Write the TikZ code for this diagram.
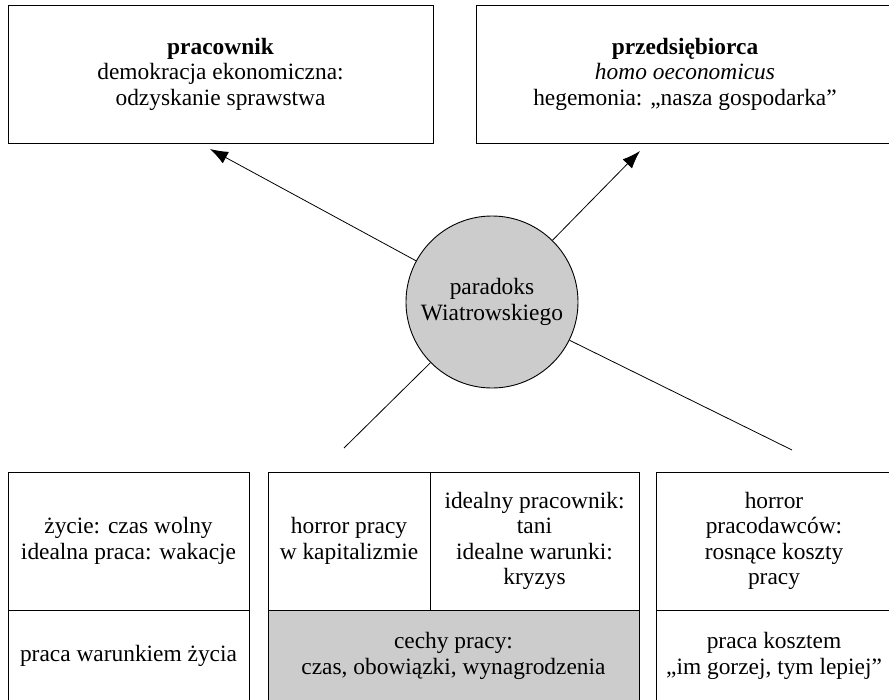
\documentclass[tikz,border=0pt]{standalone}
\usepackage{fontspec}
\setmainfont{Liberation Serif}
\usetikzlibrary{arrows.meta}
\begin{document}
\begin{tikzpicture}[x=1pt,y=-1pt,
  txt/.style={font=\fontsize{23.4}{25.5}\selectfont, align=center},
  cell/.style={txt, draw=black, line width=1pt, rectangle, inner sep=0pt},
  hub/.style={txt, draw=black, line width=0.9pt, circle, fill=black!20, minimum size=172pt, inner sep=0pt},
  arrowline/.style={line width=0.8pt, -{Latex[length=18pt,width=13pt]}},
  spoke/.style={line width=0.8pt}]
\useasboundingbox (0,0) rectangle (889,699);
\clip (0,0) rectangle (889,699);

% upper boxes
\node[cell, minimum width=425pt, minimum height=138pt] (worker) at (220.5,74)
  {\textbf{pracownik}\\demokracja ekonomiczna:\\odzyskanie sprawstwa};
\node[cell, minimum width=418pt, minimum height=138pt] (entre) at (685,74)
  {\textbf{przedsiębiorca}\\\textit{homo oeconomicus}\\hegemonia: „nasza gospodarka”};

% central circle
\node[hub] (c) at (492,302) {paradoks\\Wiatrowskiego};

% arrow tips and free ends of the spokes
\coordinate (tipL) at (210,149);
\coordinate (tipR) at (640,151);
\coordinate (endL) at (344,448);
\coordinate (endR) at (792,450);

\draw[arrowline] (c) -- (tipL);
\draw[arrowline] (c) -- (tipR);
\draw[spoke] (c) -- (endL);
\draw[spoke] (c) -- (endR);

% lower left column
\node[cell, minimum width=241pt, minimum height=138pt] (life) at (128.5,541)
  {życie: czas wolny\\idealna praca: wakacje};
\node[cell, minimum width=241pt, minimum height=92pt] (cond) at (128.5,656)
  {praca warunkiem życia};

% lower middle column
\node[cell, minimum width=162pt, minimum height=138pt] (horror) at (349,541)
  {horror pracy\\w kapitalizmie};
\node[cell, minimum width=209pt, minimum height=138pt] (ideal) at (534.5,541)
  {idealny pracownik:\\tani\\idealne warunki:\\kryzys};
\node[cell, fill=black!20, minimum width=371pt, minimum height=92pt] (traits) at (453.5,656)
  {cechy pracy:\\czas, obowiązki, wynagrodzenia};

% lower right column
\node[cell, minimum width=236pt, minimum height=138pt] (employers) at (774,541)
  {horror\\pracodawców:\\rosnące koszty\\pracy};
\node[cell, minimum width=236pt, minimum height=92pt] (cost) at (774,656)
  {praca kosztem\\„im gorzej, tym lepiej”};
\end{tikzpicture}
\end{document}
